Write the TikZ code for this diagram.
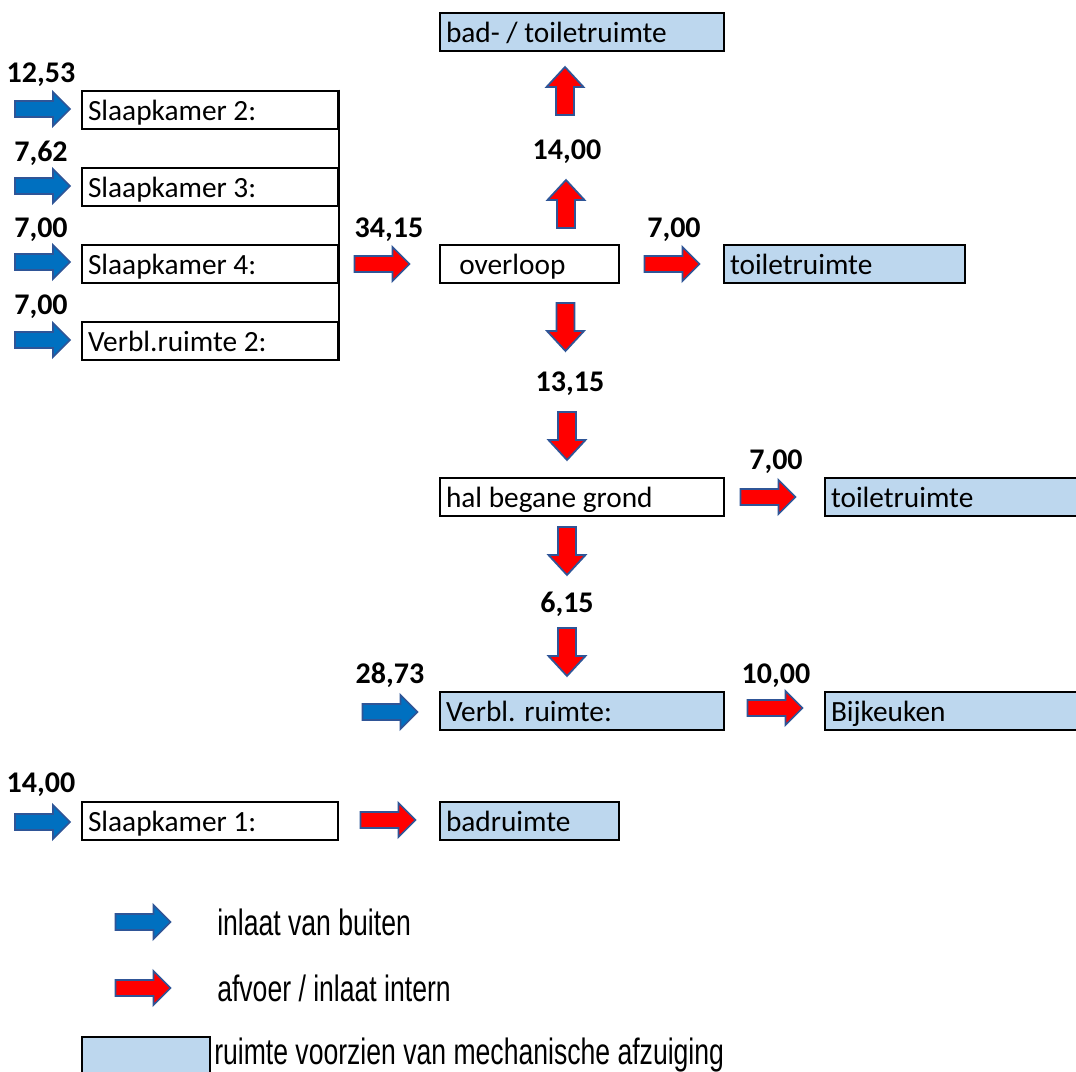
\documentclass[tikz,border=0pt]{standalone}
\usepackage{fontspec}
\setmainfont{Carlito}
\newfontfamily\legendfont[FakeStretch=0.725]{Liberation Sans}
\definecolor{arrowblue}{HTML}{0070C0}
\definecolor{arrowred}{HTML}{FF0000}
\definecolor{arrowedge}{HTML}{2F5597}
\definecolor{roomblue}{HTML}{BDD7EE}
\newcommand\myroom[6]{%
  \pgfmathsetmacro\rw{(#3-#2)*0.75}%
  \pgfmathsetmacro\tw{\rw-9}%
  \node[room,#5,minimum width=\rw pt,text width=\tw pt] (#1) at ({(#2+#3)/2},#4) {#6};}
\tikzset{
  room/.style={draw=black, line width=1.5pt, inner xsep=4.5pt, inner ysep=0pt,
    minimum height=28.5pt, align=flush left, text height=16pt, text depth=0pt,
    font=\fontsize{22pt}{26pt}\selectfont},
  plain/.style={fill=white},
  mech/.style={fill=roomblue},
  num/.style={font=\fontsize{22.5pt}{26pt}\selectfont\bfseries, inner sep=0pt, anchor=base},
  legtext/.style={font=\fontsize{27.5pt}{32pt}\legendfont, anchor=west, inner sep=0pt},
  bluearrow/.style={draw=arrowedge, fill=arrowblue, line width=1.3pt, line join=miter},
  redarrow/.style={draw=arrowedge, fill=arrowred, line width=1.3pt, line join=miter},
  rarr/.pic={\path[pic actions] (-27.5,-8) -- (10.5,-8) -- (10.5,-17) -- (27.5,0)
     -- (10.5,17) -- (10.5,8) -- (-27.5,8) -- cycle;},
  varr/.pic={\path[pic actions] (-9,-24) -- (-9,4) -- (-18.5,4) -- (0,24)
     -- (18.5,4) -- (9,4) -- (9,-24) -- cycle;},
}
\begin{document}
\begin{tikzpicture}[x=0.75pt,y=-0.75pt]
\useasboundingbox[fill=white] (0,0) rectangle (1076,1072);

% left group
\myroom{s2}{82}{338}{109.5}{plain}{Slaapkamer 2:}
\myroom{s3}{82}{338}{187}{plain}{Slaapkamer 3:}
\myroom{s4}{82}{338}{264}{plain}{Slaapkamer 4:}
\myroom{v2}{82}{338}{341}{plain}{Verbl.ruimte 2:}
\draw[line width=1.5pt] (s2.north east) -- (v2.south east);

% centre column
\myroom{bad}{440}{724}{32}{mech}{bad- / toiletruimte}
\myroom{over}{440}{619}{264}{plain}{\ \ overloop}
\myroom{toil1}{724}{965}{264}{mech}{toiletruimte}
\myroom{hal}{440}{724}{496.5}{plain}{hal begane grond}
\myroom{toil2}{825}{1078}{496.5}{mech}{toiletruimte}
\myroom{verbl}{440}{724}{711}{mech}{Verbl. ruimte:}
\myroom{bijk}{825}{1078}{711}{mech}{Bijkeuken}
\myroom{s1}{82}{338}{821}{plain}{Slaapkamer 1:}
\myroom{badr}{440}{619}{821}{mech}{badruimte}

% numbers (placed by baseline)
\node[num] (n1) at (41,82) {12,53};
\node[num] (n2) at (41,161) {7,62};
\node[num] (n3) at (41,237) {7,00};
\node[num] (n4) at (41,314) {7,00};
\node[num] (n5) at (389,237) {34,15};
\node[num] (n6) at (567,159) {14,00};
\node[num] (n7) at (674,237) {7,00};
\node[num] (n8) at (570,391) {13,15};
\node[num] (n9) at (776,469) {7,00};
\node[num] (n10) at (567,612) {6,15};
\node[num] (n11) at (390,683) {28,73};
\node[num] (n12) at (776,683) {10,00};
\node[num] (n13) at (41,792) {14,00};

% blue inlet arrows
\pic[bluearrow] (b1) at (42.5,109) {rarr};
\pic[bluearrow] (b2) at (42.5,186) {rarr};
\pic[bluearrow] (b3) at (42.5,262) {rarr};
\pic[bluearrow] (b4) at (42.5,340) {rarr};
\pic[bluearrow] (b5) at (390,712) {rarr};
\pic[bluearrow] (b6) at (42.5,822) {rarr};

% red internal arrows
\pic[redarrow] (r1) at (382,264) {rarr};
\pic[redarrow] (r2) at (672,264) {rarr};
\pic[redarrow] (r3) at (768,497) {rarr};
\pic[redarrow] (r4) at (775,708) {rarr};
\pic[redarrow] (r5) at (388,820) {rarr};
\pic[redarrow, rotate=180] (u1) at (565,91) {varr};
\pic[redarrow, rotate=180] (u2) at (566,204) {varr};
\pic[redarrow] (d1) at (565.5,327) {varr};
\pic[redarrow] (d2) at (567,436) {varr};
\pic[redarrow] (d3) at (567,551) {varr};
\pic[redarrow] (d4) at (567,652) {varr};

% legend
\pic[bluearrow] (lb) at (143,922) {rarr};
\node[legtext] (lt1) at (217,922) {inlaat van buiten};
\pic[redarrow] (lr) at (143,988) {rarr};
\node[legtext] (lt2) at (217,988) {afvoer / inlaat intern};
\draw[line width=1.5pt, fill=roomblue] (82,1037) rectangle (210,1080);
\node[legtext] (lt3) at (214,1055) {ruimte voorzien van mechanische afzuiging};
\end{tikzpicture}
\end{document}
